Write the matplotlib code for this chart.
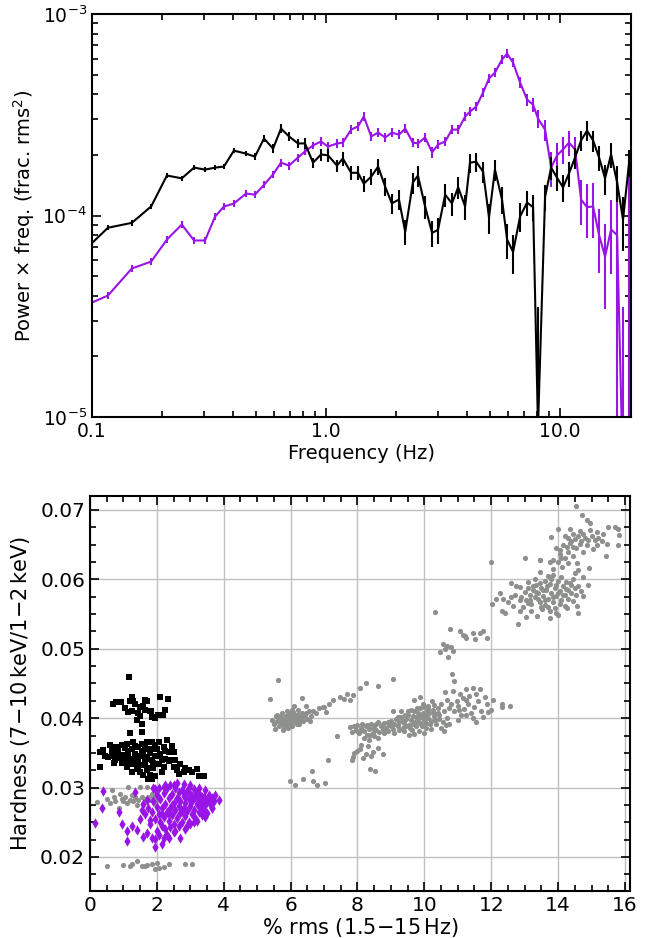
import matplotlib
matplotlib.use('Agg')
import matplotlib.pyplot as plt
import numpy as np
from matplotlib.ticker import MultipleLocator, FixedLocator, LogLocator, NullFormatter, FuncFormatter

# ---------------- top panel data (power x freq in units of 1e-4) ----------------
freq = [0.100, 0.117, 0.148, 0.179, 0.209, 0.242, 0.273, 0.304, 0.336, 0.366, 0.404, 0.455,
        0.497, 0.543, 0.594, 0.642, 0.695, 0.759, 0.813, 0.880, 0.952, 1.020, 1.114, 1.180,
        1.280, 1.370, 1.450, 1.560, 1.670, 1.790, 1.910, 2.050,
        2.180, 2.350, 2.470, 2.650, 2.840, 3.010, 3.230, 3.450, 3.670, 3.930, 4.120, 4.380,
        4.690, 4.970, 5.270, 5.650, 5.940, 6.300, 6.750, 7.230, 7.670, 8.050,
        8.630, 9.160, 9.710, 10.30, 10.92, 11.59, 12.30, 13.04, 13.84, 14.68, 15.57, 16.52,
        17.53, 18.58, 19.72]

black_pow = [0.73, 0.87, 0.92, 1.11, 1.58, 1.53, 1.73, 1.69, 1.73, 1.75, 2.10, 2.03,
             1.96, 2.41, 2.15, 2.70, 2.47, 2.28, 2.28, 1.83, 2.01, 1.99, 1.77, 1.92,
             1.63, 1.63, 1.44, 1.56, 1.75, 1.39, 1.15, 1.20,
             0.83, 1.46, 1.58, 1.11, 0.82, 0.85, 1.27, 1.15, 1.38, 1.11, 1.83, 1.85,
             1.65, 0.98, 1.69, 1.20, 0.76, 0.66, 0.99, 1.16, 1.10, 0.09,
             1.24, 1.73, 1.54, 1.38, 1.62, 1.94, 2.36, 2.64, 2.36, 1.94, 1.53, 2.01,
             1.46, 0.955, 1.83]

black_rel = [0.03, 0.03, 0.03, 0.03, 0.03, 0.03, 0.03, 0.03, 0.03, 0.03, 0.03, 0.03,
             0.04, 0.04, 0.05, 0.05, 0.05, 0.05, 0.06, 0.06, 0.07, 0.07, 0.07, 0.08,
             0.08, 0.08, 0.09, 0.09, 0.09, 0.10, 0.11, 0.11,
             0.14, 0.12, 0.12, 0.13, 0.15, 0.15, 0.13, 0.13, 0.12, 0.14, 0.11, 0.11,
             0.12, 0.17, 0.12, 0.15, 0.20, 0.22, 0.16, 0.14, 0.15, 2.90,
             0.15, 0.13, 0.14, 0.15, 0.14, 0.12, 0.11, 0.11, 0.12, 0.14, 0.17, 0.14,
             0.20, 0.30, 0.15]

purple_pow = [0.370, 0.401, 0.546, 0.591, 0.760, 0.902, 0.752, 0.752, 0.989, 1.108, 1.147, 1.286,
              1.27, 1.42, 1.60, 1.83, 1.77, 1.94, 2.08, 2.23, 2.33, 2.20, 2.28, 2.30,
              2.67, 2.77, 3.10, 2.47, 2.58, 2.44, 2.58, 2.52,
              2.70, 2.30, 2.28, 2.44, 2.06, 2.25, 2.33, 2.67, 2.67, 3.10, 3.28, 3.47,
              4.08, 4.79, 5.12, 5.95, 6.36, 5.74, 4.57, 3.76, 3.55, 3.03,
              2.67, 1.73, 1.99, 2.13, 2.30, 2.13, 1.20, 1.10, 1.11, 0.80, 0.626, 0.852,
              0.80, 0.05, 0.03]

purple_rel = [0.04, 0.04, 0.04, 0.04, 0.04, 0.04, 0.04, 0.04, 0.04, 0.04, 0.04, 0.04,
              0.04, 0.04, 0.045, 0.045, 0.045, 0.045, 0.045, 0.045, 0.05, 0.05, 0.05, 0.05,
              0.05, 0.05, 0.05, 0.05, 0.05, 0.05, 0.05, 0.05,
              0.05, 0.05, 0.05, 0.05, 0.06, 0.05, 0.05, 0.05, 0.05, 0.05, 0.05, 0.05,
              0.05, 0.05, 0.05, 0.05, 0.05, 0.05, 0.06, 0.07, 0.08, 0.10,
              0.12, 0.20, 0.15, 0.15, 0.14, 0.15, 0.25, 0.30, 0.30, 0.35, 0.45, 0.40,
              0.90, 6.0, 57.0]

# ---------------- bottom panel data: (% rms, hardness) ----------------
gray_points = [
    # low-rms soft group
    (0.20, 0.0279), (0.50, 0.0284), (0.67, 0.0297), (0.72, 0.0286), (0.75, 0.0281), (0.95, 0.0284),
    (1.00, 0.0280), (1.05, 0.0286), (1.10, 0.0278), (1.15, 0.0301), (1.20, 0.0282), (1.30, 0.0280),
    (1.35, 0.0286), (1.40, 0.0275), (1.45, 0.0282), (1.50, 0.0301), (1.55, 0.0286), (1.60, 0.0276),
    (1.65, 0.0284), (1.70, 0.0301), (1.75, 0.0287), (1.80, 0.0282), (1.85, 0.0291), (1.90, 0.0286),
    (1.95, 0.0276), (2.00, 0.0282), (2.05, 0.0299), (2.20, 0.0299), (0.88, 0.0271), (0.90, 0.0291),
    (1.25, 0.0289), (0.60, 0.0278),
    (0.50, 0.0187), (1.00, 0.0189), (1.25, 0.0190), (1.40, 0.0194), (1.55, 0.0187), (1.70, 0.0189),
    (1.85, 0.0190), (2.00, 0.0191), (2.05, 0.0184), (2.20, 0.0186), (2.35, 0.0190), (2.85, 0.0190),
    (3.05, 0.0190), (1.65, 0.0187), (1.20, 0.0187), (1.95, 0.0183),
    # group near 6 %
    (5.45, 0.0398), (5.50, 0.0392), (5.55, 0.0403), (5.60, 0.0396), (5.65, 0.0389), (5.70, 0.0401),
    (5.72, 0.0394), (5.75, 0.0407), (5.80, 0.0398), (5.82, 0.0390), (5.85, 0.0403), (5.88, 0.0411),
    (5.90, 0.0395), (5.93, 0.0386), (5.95, 0.0401), (5.98, 0.0392), (6.00, 0.0405), (6.02, 0.0398),
    (6.05, 0.0389), (6.08, 0.0409), (6.10, 0.0400), (6.12, 0.0394), (6.15, 0.0404), (6.20, 0.0397),
    (6.22, 0.0412), (6.25, 0.0391), (6.30, 0.0402), (6.33, 0.0408), (6.38, 0.0396), (6.42, 0.0405),
    (6.50, 0.0399), (6.55, 0.0410), (6.60, 0.0403), (6.68, 0.0411), (6.75, 0.0407), (6.85, 0.0414),
    (6.98, 0.0416), (7.05, 0.0409), (5.63, 0.0455), (5.38, 0.0427), (6.33, 0.0429), (6.10, 0.0417),
    (6.45, 0.0418), (5.78, 0.0383), (5.90, 0.0398), (6.05, 0.0402), (6.18, 0.0392), (5.68, 0.0395),
    (5.60, 0.0405), (5.75, 0.0392), (5.85, 0.0396), (5.95, 0.0408), (6.00, 0.0395), (6.15, 0.0399),
    (6.25, 0.0405), (6.35, 0.0401), (6.45, 0.0408), (6.58, 0.0396), (5.65, 0.0402), (5.80, 0.0386),
    (6.28, 0.0396), (6.05, 0.0412), (5.52, 0.0385),
    (7.00, 0.0416), (7.27, 0.0426), (7.48, 0.0431), (7.68, 0.0435), (7.78, 0.0426), (7.88, 0.0434),
    (8.07, 0.0444), (8.27, 0.0450), (8.62, 0.0446), (9.07, 0.0456), (7.15, 0.0421), (7.60, 0.0428),
    (5.98, 0.0310), (6.13, 0.0304), (6.38, 0.0313), (6.68, 0.0310), (6.78, 0.0304), (6.65, 0.0324),
    (7.02, 0.0306), (7.13, 0.0339), (7.40, 0.0374),
    # main group 8-12 %
    (7.78, 0.0387), (7.85, 0.0380), (7.90, 0.0389), (7.95, 0.0383), (8.00, 0.0390), (8.05, 0.0378),
    (8.10, 0.0386), (8.15, 0.0392), (8.20, 0.0381), (8.25, 0.0388), (8.30, 0.0376), (8.35, 0.0385),
    (8.40, 0.0391), (8.45, 0.0379), (8.50, 0.0387), (8.55, 0.0383), (8.60, 0.0394), (8.65, 0.0380),
    (8.70, 0.0388), (8.75, 0.0384), (8.80, 0.0393), (8.85, 0.0386), (8.90, 0.0381), (8.95, 0.0390),
    (9.00, 0.0396), (8.20, 0.0371), (8.35, 0.0368), (8.10, 0.0362), (8.50, 0.0374),
    (7.87, 0.0344), (8.17, 0.0343), (8.37, 0.0327), (8.52, 0.0324), (8.47, 0.0351), (8.77, 0.0349),
    (8.07, 0.0355), (8.32, 0.0360), (7.90, 0.0350), (8.25, 0.0348), (8.60, 0.0357), (7.85, 0.0339),
    (8.00, 0.0352), (8.40, 0.0345),
    (9.05, 0.0385), (9.10, 0.0392), (9.15, 0.0399), (9.20, 0.0388), (9.25, 0.0395), (9.30, 0.0402),
    (9.35, 0.0386), (9.40, 0.0393), (9.45, 0.0399), (9.50, 0.0405), (9.55, 0.0390), (9.60, 0.0397),
    (9.62, 0.0383), (9.65, 0.0403), (9.70, 0.0410), (9.72, 0.0394), (9.75, 0.0388), (9.80, 0.0400),
    (9.82, 0.0407), (9.85, 0.0395), (9.88, 0.0414), (9.90, 0.0402), (9.92, 0.0389), (9.95, 0.0408),
    (9.98, 0.0398), (10.00, 0.0416), (10.02, 0.0404), (10.05, 0.0393), (10.08, 0.0410), (10.10, 0.0400),
    (10.15, 0.0407), (10.20, 0.0396), (10.25, 0.0412), (10.30, 0.0403), (10.35, 0.0391), (10.40, 0.0408),
    (10.45, 0.0399), (10.50, 0.0386), (10.55, 0.0395), (10.60, 0.0381), (10.65, 0.0390), (9.70, 0.0377),
    (9.85, 0.0381), (10.00, 0.0379), (9.30, 0.0410), (9.07, 0.0411), (9.60, 0.0412), (9.68, 0.0426),
    (9.87, 0.0430), (10.30, 0.0419), (9.40, 0.0382), (9.55, 0.0376), (10.20, 0.0385),
    (9.10, 0.0378), (9.25, 0.0383), (9.45, 0.0388), (9.52, 0.0411), (9.78, 0.0415), (9.95, 0.0420),
    (10.12, 0.0418), (10.22, 0.0425), (10.40, 0.0415), (10.50, 0.0420), (10.58, 0.0410), (10.45, 0.0405),
    (10.32, 0.0398), (10.18, 0.0392), (10.05, 0.0386), (9.90, 0.0392), (9.76, 0.0402), (9.58, 0.0386),
    (9.42, 0.0404), (9.20, 0.0402), (9.00, 0.0388), (8.90, 0.0395), (8.75, 0.0392), (8.55, 0.0391),
    (8.45, 0.0386), (8.30, 0.0390), (8.15, 0.0383), (8.00, 0.0382), (8.62, 0.0372), (8.38, 0.0376),
    (8.80, 0.0378), (9.35, 0.0396), (9.65, 0.0392), (9.85, 0.0405), (10.10, 0.0413), (10.28, 0.0408),
    (10.68, 0.0400), (10.75, 0.0392), (11.25, 0.0405), (11.05, 0.0412),
    (10.62, 0.0437), (10.87, 0.0439), (11.07, 0.0435), (11.26, 0.0442), (11.46, 0.0443), (11.66, 0.0442),
    (11.56, 0.0435), (11.86, 0.0421), (12.06, 0.0426), (12.31, 0.0420), (12.56, 0.0418), (12.31, 0.0416),
    (11.26, 0.0426), (10.97, 0.0424), (10.67, 0.0426), (10.75, 0.0415), (10.90, 0.0410), (11.00, 0.0418),
    (11.10, 0.0405), (11.20, 0.0413), (11.30, 0.0420), (11.40, 0.0408), (11.50, 0.0416), (11.60, 0.0425),
    (11.70, 0.0411), (11.80, 0.0430), (11.90, 0.0409), (11.35, 0.0432), (11.15, 0.0429), (10.80, 0.0420),
    (11.45, 0.0400), (11.00, 0.0398), (11.75, 0.0402), (12.00, 0.0412), (11.55, 0.0395),
    # bridge towards 0.05
    (10.32, 0.0553), (10.77, 0.0529), (11.07, 0.0526), (11.22, 0.0519), (11.46, 0.0522), (11.66, 0.0522),
    (11.76, 0.0526), (11.86, 0.0516), (11.26, 0.0516), (11.51, 0.0514), (11.17, 0.0520), (10.57, 0.0507),
    (10.67, 0.0504), (10.80, 0.0502), (10.87, 0.0497), (10.72, 0.0488), (10.47, 0.0495), (10.62, 0.0500),
    (10.84, 0.0464), (10.90, 0.0454), (11.99, 0.0625),
    # group near 13.5 %
    (12.01, 0.0564), (12.26, 0.0581), (12.36, 0.0571), (12.60, 0.0594), (12.86, 0.0589), (13.11, 0.0596),
    (13.00, 0.0630), (13.47, 0.0628), (13.85, 0.0628), (14.10, 0.0631), (12.31, 0.0554), (12.41, 0.0552),
    (12.66, 0.0562), (12.81, 0.0535), (12.86, 0.0554), (13.11, 0.0566), (13.36, 0.0547), (13.51, 0.0557),
    (13.76, 0.0554), (14.01, 0.0549), (14.26, 0.0559), (14.56, 0.0562), (14.76, 0.0576), (14.90, 0.0592),
    (14.76, 0.0604), (14.46, 0.0601), (13.86, 0.0606), (13.46, 0.0611),
    (12.90, 0.0575), (13.00, 0.0582), (13.05, 0.0570), (13.10, 0.0588), (13.15, 0.0578), (13.20, 0.0565),
    (13.25, 0.0585), (13.30, 0.0574), (13.35, 0.0592), (13.40, 0.0580), (13.45, 0.0568), (13.50, 0.0588),
    (13.55, 0.0576), (13.60, 0.0598), (13.62, 0.0563), (13.65, 0.0584), (13.70, 0.0572), (13.75, 0.0593),
    (13.80, 0.0580), (13.85, 0.0567), (13.90, 0.0588), (13.95, 0.0576), (14.00, 0.0597), (14.05, 0.0583),
    (14.10, 0.0570), (14.15, 0.0590), (14.20, 0.0578), (14.25, 0.0586), (14.30, 0.0572), (14.35, 0.0595),
    (14.40, 0.0581), (14.45, 0.0569), (14.50, 0.0588), (14.55, 0.0577), (14.60, 0.0591), (14.70, 0.0583),
    (13.30, 0.0600), (13.70, 0.0605), (14.10, 0.0603), (13.50, 0.0560), (13.90, 0.0558), (14.20, 0.0562),
    (12.70, 0.0578), (12.50, 0.0568), (12.95, 0.0560), (13.20, 0.0554), (13.75, 0.0544), (13.95, 0.0551),
    (14.60, 0.0552), (12.15, 0.0572), (12.75, 0.0590), (13.05, 0.0545),
    (13.25, 0.0590), (13.40, 0.0572), (13.55, 0.0584), (13.68, 0.0590), (13.85, 0.0575), (14.00, 0.0580),
    (14.15, 0.0577), (14.30, 0.0584), (13.95, 0.0592), (13.60, 0.0570), (13.45, 0.0595), (14.40, 0.0592),
    (13.15, 0.0570), (12.85, 0.0570), (12.60, 0.0575), (13.80, 0.0600), (14.05, 0.0565), (13.70, 0.0560),
    (13.35, 0.0582), (14.25, 0.0596),
    # group near 14.8 %
    (14.55, 0.0706), (14.72, 0.0692), (14.85, 0.0685), (14.95, 0.0681), (14.00, 0.0673), (14.36, 0.0673),
    (14.20, 0.0663), (14.46, 0.0666), (14.76, 0.0666), (14.95, 0.0671), (15.15, 0.0668), (15.35, 0.0666),
    (15.50, 0.0675), (15.70, 0.0675), (15.80, 0.0673), (15.83, 0.0664), (15.80, 0.0649), (15.45, 0.0651),
    (15.42, 0.0633), (15.15, 0.0649), (15.05, 0.0643), (14.85, 0.0649), (14.66, 0.0651), (14.46, 0.0647),
    (14.26, 0.0647), (14.06, 0.0642), (14.31, 0.0640), (14.21, 0.0630), (14.00, 0.0625), (13.75, 0.0625),
    (13.86, 0.0615), (14.11, 0.0618), (14.31, 0.0623), (14.56, 0.0623), (14.61, 0.0613), (14.93, 0.0616),
    (14.51, 0.0609), (13.78, 0.0661), (14.46, 0.0633), (13.45, 0.0628),
    (14.50, 0.0658), (14.60, 0.0662), (14.70, 0.0655), (14.80, 0.0660), (14.90, 0.0656), (15.00, 0.0662),
    (15.10, 0.0657), (14.40, 0.0655), (14.30, 0.0660), (14.35, 0.0652), (14.65, 0.0670), (15.20, 0.0660),
    (15.30, 0.0655), (14.55, 0.0645), (14.75, 0.0640), (14.15, 0.0650), (14.05, 0.0636), (13.95, 0.0645),
]

black_points = [
    (1.18, 0.0460), (0.70, 0.0420), (0.92, 0.0423), (1.25, 0.0431), (1.20, 0.0425), (1.64, 0.0426),
    (2.09, 0.0431), (2.34, 0.0427), (1.50, 0.0416), (1.72, 0.0424), (1.81, 0.0410), (2.15, 0.0405),
    (1.25, 0.0410), (1.95, 0.0400), (0.79, 0.0423), (1.14, 0.0409), (1.58, 0.0418), (1.82, 0.0410),
    (2.03, 0.0405), (2.18, 0.0405), (1.50, 0.0403), (1.55, 0.0392), (1.55, 0.0380), (1.20, 0.0378),
    (0.30, 0.0351), (0.30, 0.0330), (0.40, 0.0354), (0.60, 0.0361), (0.72, 0.0346), (0.72, 0.0336),
    (0.78, 0.0359), (0.85, 0.0354), (1.10, 0.0363), (1.15, 0.0344), (1.25, 0.0356), (1.35, 0.0349),
    (1.45, 0.0358), (1.55, 0.0363), (1.60, 0.0349), (1.70, 0.0341), (1.75, 0.0356), (1.85, 0.0365),
    (1.90, 0.0356), (1.90, 0.0336), (2.00, 0.0346), (2.05, 0.0334), (2.10, 0.0349), (2.20, 0.0358),
    (2.25, 0.0341), (2.30, 0.0368), (2.35, 0.0351), (2.50, 0.0351), (2.50, 0.0330), (2.65, 0.0320),
    (2.80, 0.0323), (2.95, 0.0325), (3.20, 0.0327), (3.25, 0.0317), (3.40, 0.0317), (1.10, 0.0330),
    (1.30, 0.0334), (1.40, 0.0327), (1.50, 0.0322), (1.70, 0.0325), (1.80, 0.0318), (1.95, 0.0316),
    (1.85, 0.0312), (0.75, 0.0340), (1.20, 0.0337), (1.60, 0.0332), (1.00, 0.0347), (1.40, 0.0340),
    (1.65, 0.0360), (1.95, 0.0362), (2.40, 0.0340), (2.60, 0.0325), (1.05, 0.0357), (0.95, 0.0335),
    (1.50, 0.0345), (1.75, 0.0328), (2.15, 0.0322), (2.70, 0.0334), (0.55, 0.0344), (1.30, 0.0365),
    (1.05, 0.0415), (1.35, 0.0420), (1.45, 0.0408), (1.65, 0.0412), (1.85, 0.0402), (2.25, 0.0412),
    (1.40, 0.0398), (1.30, 0.0425), (0.85, 0.0348), (0.95, 0.0361), (1.15, 0.0352), (1.25, 0.0341),
    (1.35, 0.0360), (1.45, 0.0337), (1.55, 0.0352), (1.65, 0.0344), (1.70, 0.0366), (1.80, 0.0350),
    (1.85, 0.0340), (1.90, 0.0328), (2.00, 0.0355), (2.05, 0.0365), (2.15, 0.0340), (2.25, 0.0352),
    (2.35, 0.0338), (2.45, 0.0360), (1.60, 0.0318), (1.75, 0.0312), (1.65, 0.0336), (1.45, 0.0330),
    (1.25, 0.0322), (1.05, 0.0338), (0.90, 0.0342), (0.65, 0.0352), (0.45, 0.0345), (2.55, 0.0340),
    (2.85, 0.0328), (3.05, 0.0322), (2.20, 0.0330), (1.95, 0.0345),
]

purple_points = [
    (0.15, 0.0249), (0.35, 0.0271), (0.40, 0.0295), (0.88, 0.0265), (0.95, 0.0247), (1.10, 0.0237),
    (1.10, 0.0223), (1.25, 0.0244), (1.35, 0.0294), (1.40, 0.0239), (1.50, 0.0255), (1.60, 0.0229),
    (1.70, 0.0234), (1.80, 0.0247), (1.85, 0.0227), (1.95, 0.0226), (2.05, 0.0232), (2.20, 0.0228),
    (2.30, 0.0232), (2.35, 0.0227), (2.50, 0.0236), (2.70, 0.0228), (2.90, 0.0245), (3.00, 0.0247),
    (3.20, 0.0252), (3.45, 0.0257), (3.50, 0.0281), (3.65, 0.0270), (3.85, 0.0282), (3.75, 0.0290),
    (3.60, 0.0280), (1.90, 0.0300), (2.20, 0.0301), (2.50, 0.0303), (1.95, 0.0214), (2.15, 0.0218),
    (1.85, 0.0265), (1.90, 0.0280), (1.95, 0.0255), (2.00, 0.0272), (2.00, 0.0290), (2.05, 0.0262),
    (2.10, 0.0283), (2.10, 0.0250), (2.15, 0.0270), (2.20, 0.0292), (2.20, 0.0258), (2.25, 0.0277),
    (2.30, 0.0265), (2.30, 0.0299), (2.35, 0.0285), (2.35, 0.0252), (2.40, 0.0270), (2.45, 0.0291),
    (2.45, 0.0260), (2.50, 0.0278), (2.50, 0.0248), (2.55, 0.0268), (2.55, 0.0300), (2.60, 0.0285),
    (2.60, 0.0256), (2.65, 0.0273), (2.65, 0.0293), (2.70, 0.0263), (2.70, 0.0281), (2.75, 0.0251),
    (2.75, 0.0297), (2.80, 0.0270), (2.80, 0.0288), (2.85, 0.0259), (2.85, 0.0278), (2.90, 0.0295),
    (2.90, 0.0266), (2.95, 0.0283), (2.95, 0.0250), (3.00, 0.0274), (3.00, 0.0291), (3.05, 0.0262),
    (3.05, 0.0280), (3.10, 0.0298), (3.10, 0.0268), (3.15, 0.0286), (3.15, 0.0256), (3.20, 0.0276),
    (3.20, 0.0293), (3.25, 0.0265), (3.25, 0.0283), (3.30, 0.0272), (3.30, 0.0290), (3.35, 0.0260),
    (3.35, 0.0279), (3.40, 0.0287), (3.40, 0.0268), (3.45, 0.0296), (3.45, 0.0275), (3.50, 0.0283),
    (3.50, 0.0263), (3.55, 0.0290), (3.60, 0.0276), (3.65, 0.0285), (3.70, 0.0281), (3.65, 0.0270),
    (2.25, 0.0303), (2.40, 0.0304), (2.60, 0.0306), (2.80, 0.0305), (3.00, 0.0303), (2.95, 0.0300),
    (3.25, 0.0300), (1.95, 0.0298), (2.15, 0.0245), (2.40, 0.0243), (2.65, 0.0245), (1.80, 0.0253),
    (1.75, 0.0270), (1.70, 0.0282), (2.05, 0.0300), (1.65, 0.0262), (1.60, 0.0276), (2.25, 0.0240),
    (2.55, 0.0238), (2.85, 0.0240), (3.10, 0.0250), (1.55, 0.0268), (2.00, 0.0238), (2.45, 0.0275),
    (2.75, 0.0266), (3.05, 0.0288), (2.35, 0.0262), (2.85, 0.0286), (3.35, 0.0287), (2.15, 0.0262),
]

PURPLE = '#9914e6'
GRAY = '#8e908d'

fig = plt.figure(figsize=(6.51, 9.38), dpi=100)
ax1 = fig.add_axes([0.1413, 0.5554, 0.828, 0.4296])
ax2 = fig.add_axes([0.1382, 0.0501, 0.8295, 0.4211])

f = np.array(freq)
bp = np.array(black_pow) * 1e-4
pp = np.array(purple_pow) * 1e-4
ax1.errorbar(f, bp, yerr=bp * np.array(black_rel), color='black', lw=1.5,
             elinewidth=1.5, capsize=0, zorder=3)
ax1.errorbar(f, pp, yerr=pp * np.array(purple_rel), color=PURPLE, lw=1.5,
             elinewidth=1.5, capsize=0, zorder=2)
ax1.set_xscale('log')
ax1.set_yscale('log', nonpositive='clip')
ax1.set_xlim(0.1, 20.1)
ax1.set_ylim(1e-5, 1e-3)
ax1.xaxis.set_major_locator(FixedLocator([0.1, 1.0, 10.0]))
ax1.xaxis.set_major_formatter(FuncFormatter(lambda v, p: '%.1f' % v))
ax1.xaxis.set_minor_locator(LogLocator(base=10, subs=np.arange(2, 10), numticks=20))
ax1.xaxis.set_minor_formatter(NullFormatter())
ax1.tick_params(which='both', direction='in', top=True, right=True, labelsize=13.5, width=1.2)
ax1.tick_params(which='major', length=6.5)
ax1.tick_params(which='minor', length=4.3)
ax1.set_xlabel('Frequency (Hz)', fontsize=14, labelpad=2)
ax1.set_ylabel('Power × freq. (frac. rms$^2$)', fontsize=14, labelpad=4)
for s in ax1.spines.values():
    s.set_linewidth(1.5)

gx = [p[0] for p in gray_points]
gy = [p[1] for p in gray_points]
kx = [p[0] for p in black_points]
ky = [p[1] for p in black_points]
vx = [p[0] for p in purple_points]
vy = [p[1] for p in purple_points]
ax2.scatter(gx, gy, s=14, marker='o', color=GRAY, linewidths=0, zorder=2)
ax2.scatter(kx, ky, s=17, marker='s', color='black', linewidths=0, zorder=3)
ax2.scatter(vx, vy, s=28, marker='d', color=PURPLE, linewidths=0, zorder=4)
ax2.set_xlim(0, 16.15)
ax2.set_ylim(0.0151, 0.0720)
ax2.xaxis.set_major_locator(MultipleLocator(2))
ax2.xaxis.set_minor_locator(MultipleLocator(0.5))
ax2.yaxis.set_major_locator(MultipleLocator(0.01))
ax2.yaxis.set_minor_locator(MultipleLocator(0.0025))
ax2.yaxis.set_major_formatter(FuncFormatter(lambda v, p: '%.2f' % v))
ax2.grid(True, which='major', color='#c0c0c0', lw=1.0, zorder=0)
ax2.set_axisbelow(True)
ax2.tick_params(which='both', direction='in', top=True, right=True, labelsize=14.5, width=1.2)
ax2.tick_params(which='major', length=6.5)
ax2.tick_params(which='minor', length=4.3)
ax2.set_xlabel('% rms (1.5$-$15$\\,$Hz)', fontsize=15, labelpad=1)
ax2.set_ylabel('Hardness (7$-$10$\\,$keV$/$1$-$2$\\,$keV)', fontsize=15, labelpad=6)
for s in ax2.spines.values():
    s.set_linewidth(1.5)

fig.savefig('out.png', dpi=100)
